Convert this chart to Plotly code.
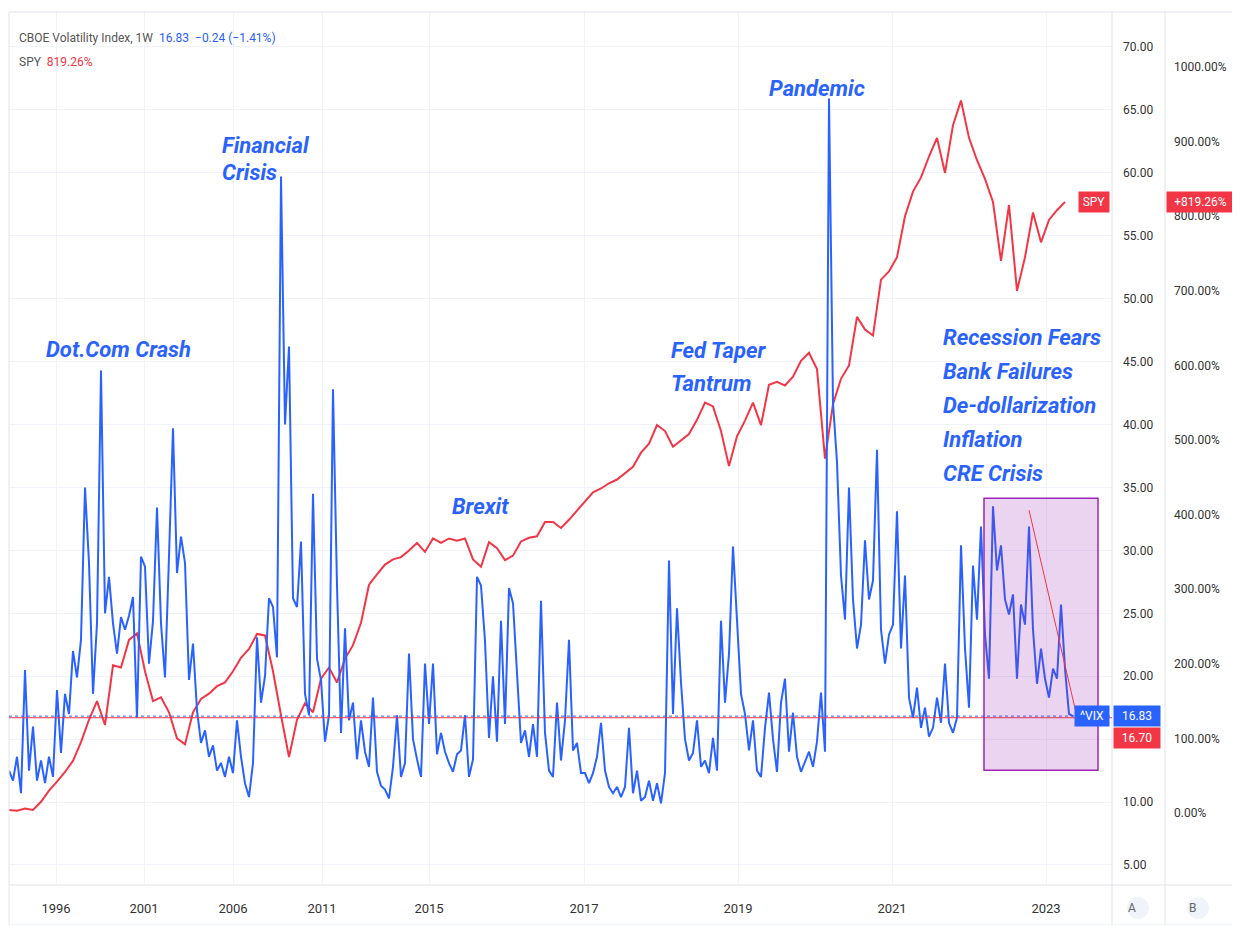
import numpy as np
import plotly.graph_objects as go

# VIX weekly closes, one value per bar (x axis is bar index, like TradingView)
vix = [
    12.5, 11.7, 13.6, 10.7, 20.5, 12.5, 16.0, 11.7, 13.3, 11.5,
    13.6, 12.0, 18.9, 13.9, 18.6, 17.0, 22.0, 19.9, 22.9, 35.0,
    29.0, 18.6, 24.2, 44.3, 25.0, 27.9, 24.2, 21.8, 24.7, 23.7,
    24.8, 26.3, 16.7, 29.5, 28.7, 21.0, 24.4, 33.4, 24.2, 19.9,
    29.5, 39.7, 28.2, 31.1, 29.0, 19.7, 22.6, 17.3, 14.7, 15.7,
    13.6, 14.5, 12.5, 13.1, 12.0, 13.6, 12.3, 16.5, 13.6, 11.5,
    10.4, 13.1, 23.1, 17.9, 20.0, 26.2, 25.5, 21.5, 59.7, 40.0,
    46.2, 26.2, 25.5, 30.7, 18.6, 16.9, 34.5, 21.4, 19.7, 14.8,
    16.9, 42.8, 27.2, 15.5, 23.8, 16.5, 17.9, 13.4, 16.5, 14.0,
    12.8, 18.3, 12.4, 11.3, 11.0, 10.3, 12.8, 16.9, 12.0, 13.1,
    21.8, 15.0, 13.4, 12.0, 21.0, 16.2, 21.0, 13.8, 15.5, 14.0,
    13.1, 12.4, 13.8, 14.1, 16.9, 12.0, 13.4, 27.9, 27.2, 22.8,
    15.1, 20.0, 14.8, 24.4, 16.2, 27.0, 25.8, 20.2, 14.7, 15.7,
    13.6, 16.2, 13.6, 26.0, 15.5, 12.5, 12.0, 17.9, 13.3, 16.5,
    22.9, 14.1, 14.7, 12.3, 12.3, 11.5, 12.3, 13.6, 16.3, 12.5,
    11.2, 10.7, 11.2, 10.4, 11.2, 15.9, 10.7, 12.5, 10.1, 10.4,
    11.7, 10.1, 11.5, 9.9, 12.3, 29.2, 17.0, 25.4, 19.5, 15.0,
    13.3, 13.9, 16.5, 12.8, 13.3, 12.3, 15.1, 12.5, 24.4, 17.9,
    21.8, 30.3, 24.0, 18.6, 17.0, 14.1, 16.5, 12.5, 12.0, 15.9,
    18.7, 15.0, 12.4, 17.9, 19.8, 14.0, 17.1, 13.6, 12.4, 13.2,
    14.0, 12.8, 14.8, 18.7, 14.0, 65.9, 41.7, 37.0, 28.0, 24.5,
    35.0, 26.1, 22.2, 24.1, 30.8, 26.1, 27.6, 38.0, 23.7, 21.0,
    23.3, 24.1, 33.1, 22.2, 28.0, 18.3, 16.7, 19.1, 15.9, 17.5,
    15.2, 15.9, 18.3, 16.3, 21.0, 16.3, 15.5, 16.7, 30.4, 22.2,
    17.5, 28.8, 24.5, 31.9, 23.3, 19.8, 33.5, 28.4, 30.4, 26.1,
    24.9, 26.5, 19.8, 25.7, 24.1, 31.9, 23.7, 19.4, 22.2, 19.8,
    18.3, 20.6, 19.8, 25.7, 20.6, 17.0, 16.83,
]

# SPY % change, one value every second bar
spy_pct = [
    4, 3, 6, 4, 15, 30, 42, 55, 70, 95,
    125, 150, 118, 198, 195, 232, 241, 190, 150, 155,
    135, 100, 92, 135, 153, 160, 170, 175, 190, 208,
    220, 240, 238, 190, 131, 75, 125, 147, 135, 180,
    195, 175, 207, 225, 255, 306, 320, 333, 340, 343,
    352, 362, 350, 368, 362, 368, 365, 368, 340, 330,
    363, 355, 339, 345, 364, 369, 371, 390, 390, 382,
    393, 405, 418, 430, 435, 442, 447, 455, 464, 483,
    495, 520, 512, 491, 500, 508, 527, 550, 545, 512,
    465, 505, 526, 550, 520, 574, 578, 573, 585, 606,
    617, 595, 475, 548, 582, 600, 665, 648, 640, 715,
    726, 745, 800, 833, 852, 880, 905, 858, 922, 955,
    905, 875, 850, 819, 740, 815, 700, 745, 805, 765,
    795, 808, 819.26,
]

year_labels = ["1996", "2001", "2006", "2011", "2015", "2017", "2019", "2021", "2023"]
year_bars = [11.75, 33.75, 56, 78.25, 105, 143.75, 182.25, 220.75, 259.25]

vix_ticks = list(range(5, 75, 5))
pct_ticks = list(range(0, 1100, 100))

vix_last = 16.83
vix_level = 16.70
spy_last = 819.26

event_lines = [["Dot.Com Crash"], ["Financial", "Crisis"], ["Brexit"], ["Fed Taper", "Tantrum"],
               ["Pandemic"],
               ["Recession Fears", "Bank Failures", "De-dollarization", "Inflation", "CRE Crisis"]]
event_bars = [27.25, 52.75, 117.75, 165, 202, 233]
event_levels = [46.0, 62.2, 33.5, 45.9, 66.7, 46.9]
event_anchor = ["center", "left", "center", "left", "center", "left"]
event_step = [0, 27, 0, 33, 0, 34]

BLUE = "#2962ff"
RED = "#f23645"
GRID = "#f0f3fa"
EDGE = "#e0e3eb"
TXT = "#333333"
FONT = "Roboto, Liberation Sans, sans-serif"

fig = go.Figure()
fig.add_trace(go.Scatter(x=np.arange(len(spy_pct)) * 2, y=spy_pct, mode="lines",
                         line=dict(color=RED, width=2), yaxis="y", hoverinfo="skip"))
fig.add_trace(go.Scatter(x=np.arange(len(vix)), y=vix, mode="lines",
                         line=dict(color=BLUE, width=2), yaxis="y2", hoverinfo="skip"))

xdom = 1103 / 1226
bpos = 1156 / 1226
fig.update_layout(
    width=1232, height=917,
    margin=dict(l=1, r=5, t=4, b=40),
    paper_bgcolor="white", plot_bgcolor="white",
    showlegend=False,
    font=dict(family=FONT, color=TXT, size=12),
    xaxis=dict(domain=[0, xdom], range=[0, 275.75], tickvals=year_bars, ticktext=year_labels,
               showgrid=True, gridcolor=GRID, zeroline=False, showline=False, ticks="",
               tickfont=dict(size=13, color=TXT), ticklabelstandoff=14),
    yaxis=dict(range=[-96.5, 1073.7], side="right", anchor="free", position=bpos,
               tickvals=pct_ticks, ticktext=[f"{v:.2f}%" for v in pct_ticks],
               showgrid=False, zeroline=False, showline=False, ticks="",
               tickfont=dict(size=12, color=TXT), ticklabelstandoff=8),
    yaxis2=dict(range=[3.41, 72.78], overlaying="y", side="right", anchor="x",
                tickvals=vix_ticks, ticktext=[f"{v:.2f}" for v in vix_ticks],
                showgrid=True, gridcolor=GRID, zeroline=False, showline=False, ticks="",
                tickfont=dict(size=12, color=TXT), ticklabelstandoff=10),
)

# frame and pane separators
shapes = [
    dict(type="rect", xref="paper", yref="paper", x0=0, x1=1, y0=-0.0458, y1=1,
         line=dict(color=EDGE, width=1)),
    dict(type="line", xref="paper", yref="paper", x0=xdom, x1=xdom, y0=-0.0458, y1=1,
         line=dict(color=EDGE, width=1)),
    dict(type="line", xref="paper", yref="paper", x0=bpos, x1=bpos, y0=-0.0458, y1=1,
         line=dict(color=EDGE, width=1)),
    dict(type="line", xref="paper", yref="paper", x0=0, x1=1, y0=0, y1=0,
         line=dict(color=EDGE, width=1)),
    # price lines
    dict(type="line", xref="paper", yref="y2", x0=0, x1=xdom, y0=vix_level, y1=vix_level,
         line=dict(color=RED, width=1)),
    dict(type="line", xref="paper", yref="y2", x0=0, x1=xdom, y0=vix_last, y1=vix_last,
         line=dict(color=BLUE, width=1, dash="dot")),
    # highlighted box and trend line
    dict(type="rect", xref="x", yref="y2", x0=243.75, x1=272.25, y0=12.53, y1=34.15,
         fillcolor="rgba(156,39,176,0.2)", line=dict(color="#9c27b0", width=1.5), layer="above"),
    dict(type="line", xref="x", yref="y2", x0=255, x1=266.75, y0=33.2, y1=17.1,
         line=dict(color=RED, width=1)),
]
ab_x = [1129 / 1226, 1189 / 1226]
for xc in ab_x:
    shapes.append(dict(type="circle", xref="paper", yref="paper", xsizemode="pixel", ysizemode="pixel",
                       xanchor=xc, yanchor=-0.0263, x0=-11, x1=11, y0=-11, y1=11,
                       fillcolor=GRID, line=dict(width=0)))
fig.update_layout(shapes=shapes)

ann = []
for lines, b, lv, anc, step in zip(event_lines, event_bars, event_levels, event_anchor, event_step):
    for k, line in enumerate(lines):
        ann.append(dict(x=b, y=lv, yshift=-k * step, xref="x", yref="y2", text=line,
                        showarrow=False, xanchor=anc, yanchor="middle",
                        font=dict(family=FONT, size=22, color=BLUE, style="italic", weight="bold")))

# header
ann.append(dict(xref="paper", yref="paper", x=0.0065, y=1 - 26 / 873, xanchor="left", yanchor="middle",
                showarrow=False,
                text="CBOE Volatility Index, 1W  <span style='color:#2962ff'>16.83  −0.24 (−1.41%)</span>",
                font=dict(size=12, color="#555555")))
ann.append(dict(xref="paper", yref="paper", x=0.0065, y=1 - 50 / 873, xanchor="left", yanchor="middle",
                showarrow=False, text="SPY  <span style='color:#f23645'>819.26%</span>",
                font=dict(size=12, color="#555555")))

# last value tags
tag = dict(showarrow=False, font=dict(size=12, color="white"), height=20, borderpad=0, yanchor="middle")
ann.append(dict(tag, xref="paper", yref="y2", x=xdom, xshift=-2, y=vix_last, xanchor="right",
                text="^VIX", bgcolor=BLUE, width=34))
ann.append(dict(tag, xref="paper", yref="y2", x=xdom, xshift=1, y=vix_last, xanchor="left",
                text="16.83", bgcolor=BLUE, width=46))
ann.append(dict(tag, xref="paper", yref="y2", x=xdom, xshift=1, y=vix_last, yshift=-22,
                xanchor="left", text="16.70", bgcolor=RED, width=46))
ann.append(dict(tag, xref="paper", yref="y", x=xdom, xshift=-2, y=spy_last, xanchor="right",
                text="SPY", bgcolor=RED, width=30))
ann.append(dict(tag, xref="paper", yref="y", x=bpos, xshift=1, y=spy_last,
                xanchor="left", text="+819.26%", bgcolor=RED, width=67))
for xc, ch in zip(ab_x, ["A", "B"]):
    ann.append(dict(xref="paper", yref="paper", x=xc, y=-0.0263, text=ch, showarrow=False,
                    yanchor="middle", font=dict(size=12, color="#666666")))
fig.update_layout(annotations=ann)

fig.write_html("out.html")
